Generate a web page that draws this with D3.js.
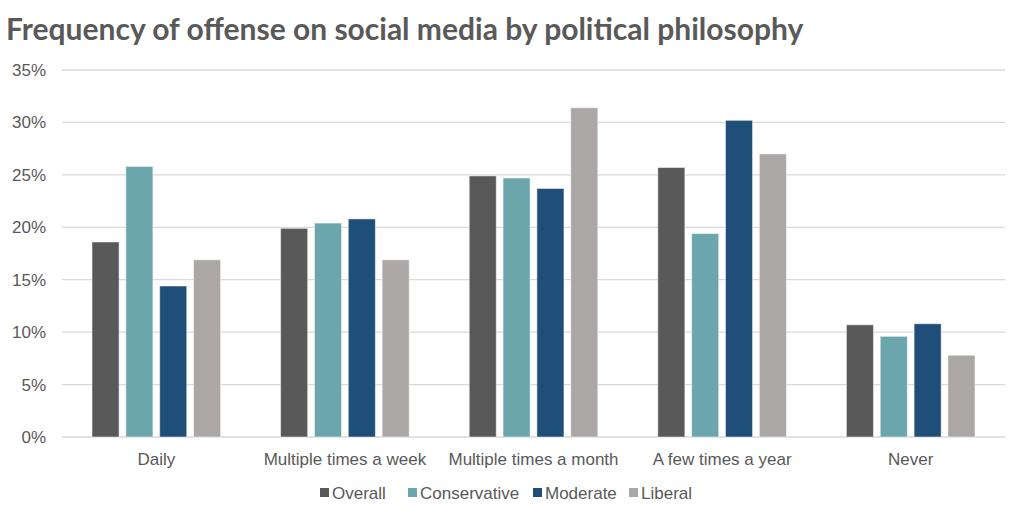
<!DOCTYPE html>
<html lang="en">
<head>
    <meta charset="UTF-8">
    <title>Frequency of offense on social media by political philosophy</title>
    <script src="https://d3js.org/d3.v7.min.js"></script>
    <style>
        body { margin: 0; background: #fff; }
        svg { display: block; }
        .title { font-family: Lato, sans-serif; font-weight: 700; fill: #595959; }
        .axis text { font-family: "Liberation Sans", Arial, sans-serif; fill: #595959; }
        .legend text { font-family: "Liberation Sans", Arial, sans-serif; fill: #595959; }
    </style>
</head>
<body>
<svg id="chart" width="1024" height="518"></svg>
<script>
    // chart data
    const categories = ["Daily", "Multiple times a week", "Multiple times a month", "A few times a year", "Never"];
    const seriesNames = ["Overall", "Conservative", "Moderate", "Liberal"];
    const overall = [18.6, 19.9, 24.9, 25.7, 10.7];
    const conservative = [25.8, 20.4, 24.7, 19.4, 9.6];
    const moderate = [14.4, 20.8, 23.7, 30.2, 10.8];
    const liberal = [16.9, 16.9, 31.4, 27.0, 7.8];
    const yTicks = [0, 5, 10, 15, 20, 25, 30, 35];

    const colors = ["#595959", "#6aa6ab", "#1f4e79", "#aba7a6"];
    const seriesValues = [overall, conservative, moderate, liberal];

    const svg = d3.select("#chart");
    const margin = { top: 70, right: 19, bottom: 81, left: 62 };
    const width = 1024 - margin.left - margin.right;
    const height = 518 - margin.top - margin.bottom;

    // title
    svg.append("text")
        .attr("class", "title")
        .attr("x", 6)
        .attr("y", 40)
        .style("font-size", "30px")
        .text("Frequency of offense on social media by political philosophy");

    const g = svg.append("g").attr("transform", `translate(${margin.left},${margin.top})`);

    const x0 = d3.scaleBand().domain(categories).range([0, width]).paddingInner(0).paddingOuter(0);
    const x1 = d3.scaleBand().domain(seriesNames).range([30, x0.bandwidth() - 30]).paddingInner(0.2);
    const y = d3.scaleLinear().domain([0, 35]).range([height, 0]);

    // gridlines
    g.append("g")
        .selectAll("line")
        .data(yTicks)
        .enter()
        .append("line")
        .attr("x1", 0)
        .attr("x2", width)
        .attr("y1", d => y(d))
        .attr("y2", d => y(d))
        .attr("stroke", "#d9d9d9")
        .attr("stroke-width", 1.3);

    // y axis labels
    const yAxis = g.append("g")
        .attr("class", "axis")
        .call(d3.axisLeft(y).tickValues(yTicks).tickFormat(d => d + "%").tickSize(0).tickPadding(16));
    yAxis.select(".domain").remove();
    yAxis.selectAll("text").style("font-size", "17px");

    // bars
    const group = g.selectAll(".group")
        .data(categories)
        .enter()
        .append("g")
        .attr("transform", d => `translate(${x0(d)},0)`);

    group.selectAll("rect")
        .data((d, i) => seriesNames.map((s, j) => ({ s: s, v: seriesValues[j][i], c: colors[j] })))
        .enter()
        .append("rect")
        .attr("x", d => x1(d.s))
        .attr("width", x1.bandwidth())
        .attr("y", d => y(d.v))
        .attr("height", d => y(0) - y(d.v))
        .attr("fill", d => d.c)
        .attr("stroke", "#ffffff")
        .attr("stroke-opacity", 0.5)
        .attr("stroke-width", 1);

    // x axis labels
    const xAxis = g.append("g")
        .attr("class", "axis")
        .attr("transform", `translate(0,${height})`)
        .call(d3.axisBottom(x0).tickSize(0).tickPadding(16));
    xAxis.select(".domain").remove();
    xAxis.selectAll("text").style("font-size", "17px");

    // legend
    const legendX = [320, 408, 533, 629];
    const legend = svg.append("g").attr("class", "legend");
    seriesNames.forEach((s, i) => {
        const item = legend.append("g").attr("transform", `translate(${legendX[i]},493)`);
        item.append("rect")
            .attr("x", 0).attr("y", -5)
            .attr("width", 9).attr("height", 9)
            .attr("fill", colors[i]);
        item.append("text")
            .attr("x", 12).attr("y", 0)
            .attr("dy", "0.35em")
            .style("font-size", "17px")
            .text(s);
    });
</script>
</body>
</html>
